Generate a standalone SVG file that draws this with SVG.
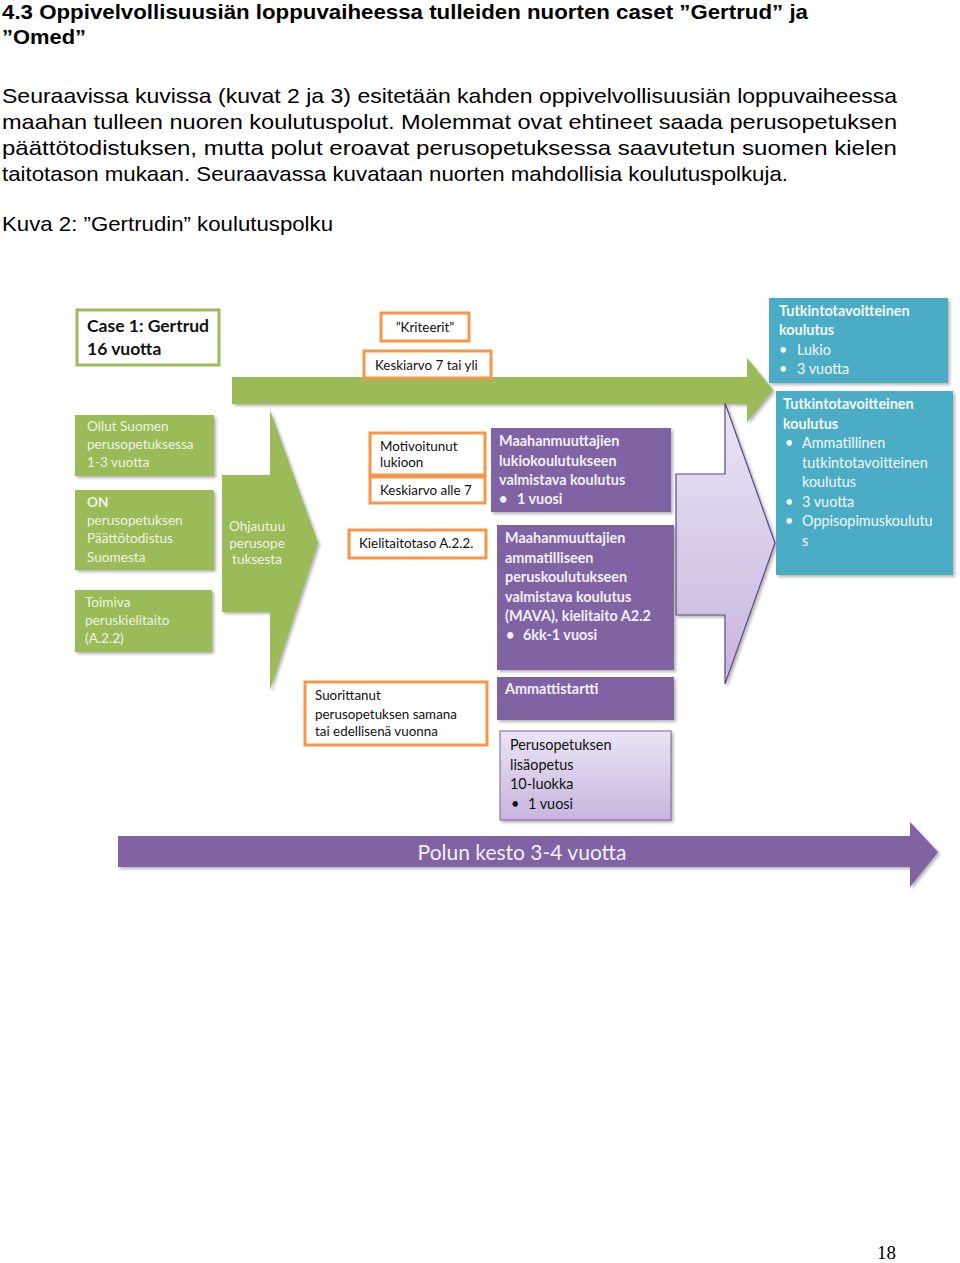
<svg xmlns="http://www.w3.org/2000/svg" width="960" height="1263" viewBox="0 0 960 1263">
<defs>
<style>
.h{font-family:"Liberation Sans",Arial,sans-serif;font-weight:bold;font-size:21px;fill:#000}
.p{font-family:"Liberation Sans",Arial,sans-serif;font-size:21px;fill:#000}
.d{font-family:Lato,"Noto Sans",sans-serif}
.gbox{fill:#9bbb59}
.gtxt{font-family:Lato,"Noto Sans",sans-serif;font-size:13.6px;fill:#eef3e4}
.obox{fill:#fff;stroke:#f79646;stroke-width:3}
.otxt{font-family:Lato,"Noto Sans",sans-serif;font-size:13.4px;fill:#111}
.pbox{fill:#8064a2}
.ptxt{font-family:Lato,"Noto Sans",sans-serif;font-size:14.4px;font-weight:bold;fill:#f3effa}
.tbox{fill:#4bacc6}
.ttxt{font-family:Lato,"Noto Sans",sans-serif;font-size:14.4px;fill:#f4fafc}
.sh{filter:url(#shadow)}
</style>
<filter id="shadow" x="-10%" y="-10%" width="125%" height="125%">
<feDropShadow dx="2" dy="2" stdDeviation="1.5" flood-color="#777" flood-opacity="0.55"/>
</filter>
<linearGradient id="lav" x1="0" y1="0" x2="0" y2="1">
<stop offset="0" stop-color="#ebe4f4"/>
<stop offset="1" stop-color="#c6b5de"/>
</linearGradient>
</defs>
<rect width="960" height="1263" fill="#fff"/>

<g id="text">
<text class="h" x="2" y="19" textLength="806" lengthAdjust="spacingAndGlyphs">4.3 Oppivelvollisuusiän loppuvaiheessa tulleiden nuorten caset ”Gertrud” ja</text>
<text class="h" x="2" y="44" textLength="84" lengthAdjust="spacingAndGlyphs">”Omed”</text>
<text class="p" x="2" y="103" textLength="895" lengthAdjust="spacingAndGlyphs">Seuraavissa kuvissa (kuvat 2 ja 3) esitetään kahden oppivelvollisuusiän loppuvaiheessa</text>
<text class="p" x="2" y="129" textLength="895" lengthAdjust="spacingAndGlyphs">maahan tulleen nuoren koulutuspolut. Molemmat ovat ehtineet saada perusopetuksen</text>
<text class="p" x="2" y="155" textLength="895" lengthAdjust="spacingAndGlyphs">päättötodistuksen, mutta polut eroavat perusopetuksessa saavutetun suomen kielen</text>
<text class="p" x="2" y="181" textLength="786" lengthAdjust="spacingAndGlyphs">taitotason mukaan. Seuraavassa kuvataan nuorten mahdollisia koulutuspolkuja.</text>
<text class="p" x="2" y="231" textLength="331" lengthAdjust="spacingAndGlyphs">Kuva 2: ”Gertrudin” koulutuspolku</text>
<text x="877" y="1259" font-family="Liberation Serif,serif" font-size="19" fill="#000">18</text>
</g>

<g id="connectors">
<path class="sh" d="M232,377 H747 V358 L773,390 L747,422 V404 H232 Z" fill="#9bbb59"/>
<path class="sh" d="M222,475 H270 V410 L318,543 L270,690 V612 H222 Z" fill="#9bbb59"/>
<text class="gtxt" font-size="12.5" text-anchor="middle" x="257" y="531">Ohjautuu</text>
<text class="gtxt" font-size="12.5" text-anchor="middle" x="257" y="548">perusope</text>
<text class="gtxt" font-size="12.5" text-anchor="middle" x="257" y="564">tuksesta</text>
<path class="sh" d="M676,474 H725 V403 L775,543 L725,684 V615 H676 Z" fill="url(#lav)" stroke="#5e4a87" stroke-width="1.2"/>
<path class="sh" d="M118,836 H910 V822 L938,852 L910,887 V867 H118 Z" fill="#8064a2"/>
<text class="d" x="522" y="860" text-anchor="middle" font-size="21" fill="#f3effa">Polun kesto 3-4 vuotta</text>
</g>

<g id="case">
<rect x="77" y="310" width="142" height="55" fill="#fff" stroke="#9bbb59" stroke-width="3"/>
<text class="d" x="87" y="332" font-size="17.5" font-weight="bold" fill="#111">Case 1: Gertrud</text>
<text class="d" x="87" y="355" font-size="17.5" font-weight="bold" fill="#111">16 vuotta</text>
</g>

<g id="kriteerit">
<rect class="obox" x="381" y="313" width="88" height="28"/>
<text class="otxt" x="425" y="332" font-size="14.5" text-anchor="middle">”Kriteerit”</text>
</g>
<g id="ka7">
<rect class="obox" x="364" y="351" width="127" height="27"/>
<text class="otxt" x="375" y="370">Keskiarvo 7 tai yli</text>
</g>

<g id="lukio">
<rect class="tbox sh" x="769" y="298" width="179" height="85"/>
<text class="ttxt" x="779" y="316" font-weight="bold">Tutkintotavoitteinen</text>
<text class="ttxt" x="779" y="335" font-weight="bold">koulutus</text>
<text class="ttxt" x="779" y="355">•</text><text class="ttxt" x="797" y="355">Lukio</text>
<text class="ttxt" x="779" y="374">•</text><text class="ttxt" x="797" y="374">3 vuotta</text>
</g>

<g id="ammatillinen">
<rect class="tbox sh" x="776" y="391" width="177" height="184"/>
<text class="ttxt" x="783" y="409" font-weight="bold">Tutkintotavoitteinen</text>
<text class="ttxt" x="783" y="429" font-weight="bold">koulutus</text>
<text class="ttxt" x="785" y="448">•</text><text class="ttxt" x="802" y="448">Ammatillinen</text>
<text class="ttxt" x="802" y="468">tutkintotavoitteinen</text>
<text class="ttxt" x="802" y="487">koulutus</text>
<text class="ttxt" x="785" y="507">•</text><text class="ttxt" x="802" y="507">3 vuotta</text>
<text class="ttxt" x="785" y="526">•</text><text class="ttxt" x="802" y="526">Oppisopimuskoulutu</text>
<text class="ttxt" x="802" y="546">s</text>
</g>

<g id="ollut">
<rect class="gbox sh" x="75" y="415" width="139" height="61"/>
<text class="gtxt" x="87" y="431">Ollut Suomen</text>
<text class="gtxt" x="87" y="449">perusopetuksessa</text>
<text class="gtxt" x="87" y="467">1-3 vuotta</text>
</g>
<g id="on">
<rect class="gbox sh" x="75" y="490" width="139" height="80"/>
<text class="gtxt" x="87" y="507" font-weight="bold">ON</text>
<text class="gtxt" x="87" y="525">perusopetuksen</text>
<text class="gtxt" x="87" y="543">Päättötodistus</text>
<text class="gtxt" x="87" y="562">Suomesta</text>
</g>
<g id="toimiva">
<rect class="gbox sh" x="75" y="590" width="137" height="62"/>
<text class="gtxt" x="85" y="607">Toimiva</text>
<text class="gtxt" x="85" y="625">peruskielitaito</text>
<text class="gtxt" x="85" y="643">(A.2.2)</text>
</g>

<g id="motivoitunut">
<rect class="obox" x="370" y="433" width="115" height="42"/>
<text class="otxt" x="380" y="451" font-size="12.8">Motivoitunut</text>
<text class="otxt" x="380" y="467" font-size="12.8">lukioon</text>
</g>
<g id="ka-alle7">
<rect class="obox" x="370" y="477" width="115" height="26"/>
<text class="otxt" x="380" y="495">Keskiarvo alle 7</text>
</g>
<g id="kielitaito">
<rect class="obox" x="349" y="530" width="137" height="28"/>
<text class="otxt" x="359" y="548">Kielitaitotaso A.2.2.</text>
</g>
<g id="suorittanut">
<rect class="obox" x="305" y="682" width="182" height="63"/>
<text class="otxt" x="315" y="700">Suorittanut</text>
<text class="otxt" x="315" y="719">perusopetuksen samana</text>
<text class="otxt" x="315" y="736">tai edellisenä vuonna</text>
</g>

<g id="luva">
<rect class="pbox sh" x="491" y="428" width="180" height="84"/>
<text class="ptxt" x="499" y="446">Maahanmuuttajien</text>
<text class="ptxt" x="499" y="466">lukiokoulutukseen</text>
<text class="ptxt" x="499" y="485">valmistava koulutus</text>
<text class="ptxt" x="499" y="504">•</text><text class="ptxt" x="517" y="504">1 vuosi</text>
</g>
<g id="mava">
<rect class="pbox sh" x="497" y="525" width="177" height="145"/>
<text class="ptxt" x="505" y="543">Maahanmuuttajien</text>
<text class="ptxt" x="505" y="563">ammatilliseen</text>
<text class="ptxt" x="505" y="582">peruskoulutukseen</text>
<text class="ptxt" x="505" y="602">valmistava koulutus</text>
<text class="ptxt" x="505" y="621">(MAVA), kielitaito A2.2</text>
<text class="ptxt" x="506" y="640">•</text><text class="ptxt" x="523" y="640">6kk-1 vuosi</text>
</g>
<g id="ammattistartti">
<rect class="pbox sh" x="497" y="677" width="177" height="43"/>
<text class="ptxt" x="505" y="694">Ammattistartti</text>
</g>
<g id="lisaopetus">
<rect class="sh" x="500" y="731" width="171" height="89" fill="url(#lav)" stroke="#7f64a2" stroke-width="1"/>
<text class="d" x="510" y="750" font-size="14.4" fill="#111">Perusopetuksen</text>
<text class="d" x="510" y="770" font-size="14.4" fill="#111">lisäopetus</text>
<text class="d" x="510" y="789" font-size="14.4" fill="#111">10-luokka</text>
<text class="d" x="511" y="809" font-size="14.4" fill="#111">•</text><text class="d" x="528" y="809" font-size="14.4" fill="#111">1 vuosi</text>
</g>
</svg>
